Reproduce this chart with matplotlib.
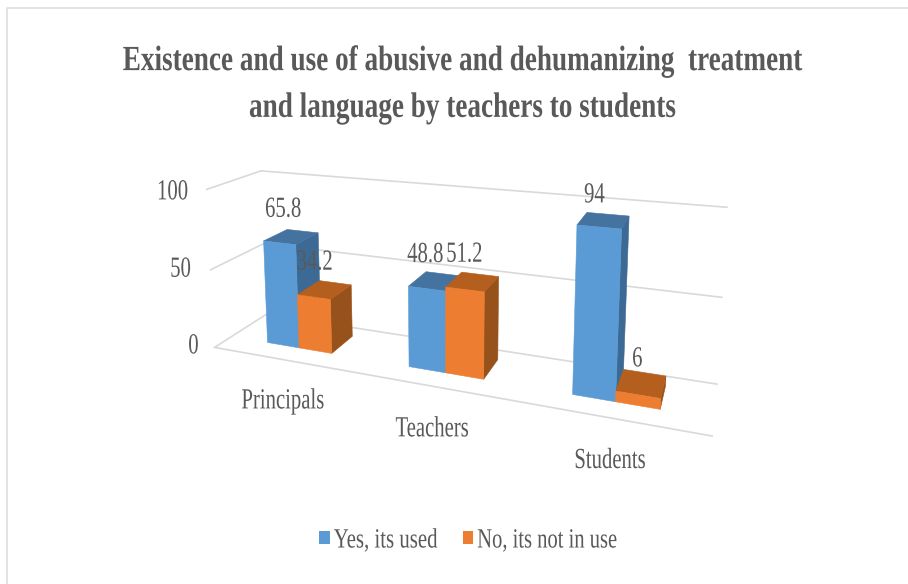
import numpy as np
import matplotlib
matplotlib.use("Agg")
import matplotlib.pyplot as plt
from matplotlib.patches import Polygon, Patch
from matplotlib.patheffects import AbstractPathEffect
from matplotlib.transforms import Affine2D

title = "Existence and use of abusive and dehumanizing  treatment\nand language by teachers to students"
categories = ["Principals", "Teachers", "Students"]
series_names = ["Yes, its used", "No, its not in use"]
yes_values = [65.8, 48.8, 94]
no_values = [34.2, 51.2, 6]
z_ticks = [0, 50, 100]

FONT = "Liberation Serif"
TXT = "#595959"
GRID = "#d9d9d9"
FACE = {"yes": ("#5B9BD5", "#44739F", "#3C6A95"), "no": ("#ED7D31", "#B45F1E", "#97511A")}


class Condense(AbstractPathEffect):
    """Narrow the glyphs horizontally, as in the squeezed reference image."""

    def __init__(self, sx, centred=True):
        super().__init__()
        self.sx = sx
        self.centred = centred

    def draw_path(self, renderer, gc, tpath, affine, rgbFace=None):
        cx = 0.0
        if self.centred and len(tpath.vertices):
            cx = (tpath.vertices[:, 0].min() + tpath.vertices[:, 0].max()) / 2
        t = Affine2D().translate(-cx, 0).scale(self.sx, 1).translate(cx, 0) + affine
        renderer.draw_path(gc, tpath, t, rgbFace)


# camera calibration: chart-box corners (u, depth, z) -> pixel position
calib_3d = [(0, 0, 0), (0, 0, 50), (0, 0, 100), (0, 1, 0), (0, 1, 50), (0, 1, 100),
            (3, 1, 0), (3, 1, 50), (3, 1, 100), (3, 0, 0)]
calib_px = [(217, 346), (210, 269), (205, 190), (265, 318), (263, 240), (263, 172),
            (717, 382), (722, 297), (727, 208), (712, 438)]


def fit_camera(src, dst):
    rows, rhs = [], []
    for (u, v, z), (x, y) in zip(src, dst):
        rows.append([u, v, z, 1, 0, 0, 0, 0, -x * u, -x * v, -x * z]); rhs.append(x)
        rows.append([0, 0, 0, 0, u, v, z, 1, -y * u, -y * v, -y * z]); rhs.append(y)
    p = np.linalg.lstsq(np.array(rows, float), np.array(rhs, float), rcond=None)[0]
    return np.append(p, 1.0).reshape(3, 4)


CAM = fit_camera(calib_3d, calib_px)


def proj(u, v, z):
    q = CAM @ np.array([u, v, z, 1.0])
    return q[0] / q[2], q[1] / q[2]


fig = plt.figure(figsize=(9.08, 5.84), dpi=100)
ax = fig.add_axes([0, 0, 1, 1])
ax.set_xlim(0, 908)
ax.set_ylim(584, 0)
ax.axis("off")

# outer chart frame
ax.plot([7, 7, 908], [584, 8, 8], color="#e2e2e2", lw=1.4, zorder=1)


def label(x, y, s, sx=0.71, size=21, z=20):
    ax.text(x, y, s, ha="center", va="center", family=FONT, fontsize=size, color=TXT, zorder=z,
            path_effects=[Condense(sx)])


# walls and floor
tick_shift = [(-21, -1), (-30, 0), (-34, 3)]
for z, (dx, dy) in zip(z_ticks, tick_shift):
    pts = [proj(0, 0, z), proj(0, 1, z), proj(3, 1, z)]
    ax.plot(*zip(*pts), color=GRID, lw=1.2, zorder=1)
    x0, y0 = proj(0, 0, z)
    label(x0 + dx, y0 + dy, str(z))
ax.plot(*zip(proj(0, 0, 0), proj(3, 0, 0)), color=GRID, lw=1.2, zorder=1)

BAR_W = 0.235
OFFSET = [0.276, 0.272, 0.26]
D0, D1 = 0.31, 0.78


def draw_bar(u0, val, colors, z):
    u1 = u0 + BAR_W
    front, top, side = colors
    ax.add_patch(Polygon([proj(u1, D0, 0), proj(u1, D1, 0), proj(u1, D1, val), proj(u1, D0, val)],
                         fc=side, ec=side, lw=0.4, zorder=z))
    ax.add_patch(Polygon([proj(u0, D0, val), proj(u1, D0, val), proj(u1, D1, val), proj(u0, D1, val)],
                         fc=top, ec=top, lw=0.4, zorder=z))
    ax.add_patch(Polygon([proj(u0, D0, 0), proj(u1, D0, 0), proj(u1, D0, val), proj(u0, D0, val)],
                         fc=front, ec=front, lw=0.4, zorder=z))


label_shift = [[(-8, -27), (-10, -27)], [(-10, -26), (-8, -27)], [(-9, -25), (-4, -24)]]
cat_shift = [(1, 42), (-1, 43), (-1, 43)]
for i, (y_val, n_val) in enumerate(zip(yes_values, no_values)):
    draw_bar(i + OFFSET[i], y_val, FACE["yes"], 3 + 2 * i)
    draw_bar(i + OFFSET[i] + BAR_W, n_val, FACE["no"], 4 + 2 * i)
    for j, v in enumerate((y_val, n_val)):
        cx, cy = proj(i + OFFSET[i] + (j + 0.5) * BAR_W, (D0 + D1) / 2, v)
        dx, dy = label_shift[i][j]
        label(cx + dx, cy + dy, f"{v:g}")
    bx, by = proj(i + 0.5, 0, 0)
    label(bx + cat_shift[i][0], by + cat_shift[i][1], categories[i])

fig.text(463 / 908, 1 - 85 / 584, title, ha="center", va="center", family=FONT, fontsize=25.5, fontweight="bold",
         color=TXT, linespacing=1.55, path_effects=[Condense(0.768)])

handles = [Patch(fc=FACE["yes"][0], label=series_names[0]), Patch(fc=FACE["no"][0], label=series_names[1])]
leg = ax.legend(handles=handles, loc="center left", bbox_to_anchor=(319 / 908, 1 - 541 / 584), ncol=2, frameon=False,
                prop={"family": FONT, "size": 20}, labelcolor=TXT, handlelength=0.39, handleheight=0.39,
                handletextpad=0.14, columnspacing=-0.35, borderpad=0, borderaxespad=0)
for t, sx in zip(leg.get_texts(), (0.75, 0.74)):
    t.set_path_effects([Condense(sx, centred=False)])

fig.savefig("out.png", dpi=100)
